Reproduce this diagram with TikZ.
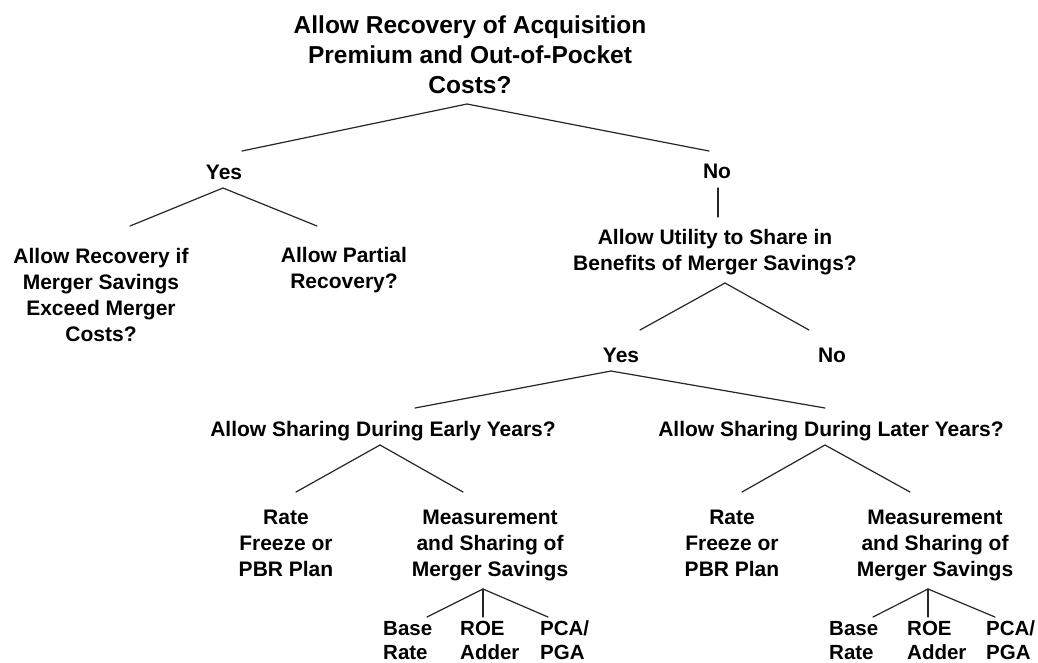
\documentclass[tikz,border=0pt]{standalone}
\usepackage{fontspec}
\setmainfont{Liberation Sans}
\begin{document}
\begin{tikzpicture}[x=1pt,y=-1pt]
\tikzset{
  lbl/.style={font=\bfseries\fontsize{21}{26}\selectfont, inner sep=0pt, align=center, anchor=base},
  ttl/.style={lbl, font=\bfseries\fontsize{24.5}{30}\selectfont},
  sml/.style={font=\bfseries\fontsize{20.5}{24}\selectfont, inner sep=0pt, align=left, anchor=base west},
  edge/.style={line width=1.2pt, black!85, line cap=round}
}
\useasboundingbox[fill=white] (0,0) rectangle (1038,662);

% texts (y = baseline of the last line)
\node[ttl] (root) at (470,93) {Allow Recovery of Acquisition\\Premium and Out-of-Pocket\\Costs?};
\node[lbl] (yes1) at (224,179) {Yes};
\node[lbl] (no1) at (717,178) {No};
\node[lbl] (recif) at (101,341) {Allow Recovery if\\Merger Savings\\Exceed Merger\\Costs?};
\node[lbl] (partial) at (344,288) {Allow Partial\\Recovery?};
\node[lbl] (utility) at (715,270) {Allow Utility to Share in\\Benefits of Merger Savings?};
\node[lbl] (yes2) at (621,362) {Yes};
\node[lbl] (no2) at (832,362) {No};
\node[lbl] (early) at (383,436) {Allow Sharing During Early Years?};
\node[lbl] (later) at (831,436) {Allow Sharing During Later Years?};
\node[lbl] (rate1) at (286,576) {Rate\\Freeze or\\PBR Plan};
\node[lbl] (meas1) at (490,576) {Measurement\\and Sharing of\\Merger Savings};
\node[lbl] (rate2) at (732,576) {Rate\\Freeze or\\PBR Plan};
\node[lbl] (meas2) at (935,576) {Measurement\\and Sharing of\\Merger Savings};
\node[sml] (base1) at (383,659) {Base\\Rate};
\node[sml] (roe1) at (460,659) {ROE\\Adder};
\node[sml] (pca1) at (540,659) {PCA/\\PGA};
\node[sml] (base2) at (829,659) {Base\\Rate};
\node[sml] (roe2) at (907,659) {ROE\\Adder};
\node[sml] (pca2) at (986,659) {PCA/\\PGA};

% connector end points
\coordinate (rootB) at (467,104);
\coordinate (yes1T) at (242,151);
\coordinate (no1T) at (709,151);
\coordinate (yes1B) at (223,188);
\coordinate (recifT) at (130,226);
\coordinate (partialT) at (317,226);
\coordinate (no1B) at (718,188);
\coordinate (utilityT) at (718,217);
\coordinate (utilityB) at (725,283);
\coordinate (yes2T) at (640,330);
\coordinate (no2T) at (809,330);
\coordinate (yes2B) at (611,371);
\coordinate (earlyT) at (415,408);
\coordinate (laterT) at (825,408);
\coordinate (earlyB) at (380,445);
\coordinate (rate1T) at (296,492);
\coordinate (meas1T) at (463,492);
\coordinate (laterB) at (825,445);
\coordinate (rate2T) at (742,492);
\coordinate (meas2T) at (910,492);
\coordinate (meas1B) at (483,589);
\coordinate (base1T) at (427,617);
\coordinate (roe1T) at (483,617);
\coordinate (pca1T) at (548,617);
\coordinate (meas2B) at (928,589);
\coordinate (base2T) at (873,617);
\coordinate (roe2T) at (928,617);
\coordinate (pca2T) at (995,617);

% connectors
\draw[edge] (yes1T) -- (rootB) -- (no1T);
\draw[edge] (recifT) -- (yes1B) -- (partialT);
\draw[edge] (no1B) -- (utilityT);
\draw[edge] (yes2T) -- (utilityB) -- (no2T);
\draw[edge] (earlyT) -- (yes2B) -- (laterT);
\draw[edge] (rate1T) -- (earlyB) -- (meas1T);
\draw[edge] (rate2T) -- (laterB) -- (meas2T);
\draw[edge] (base1T) -- (meas1B) -- (pca1T);
\draw[edge] (meas1B) -- (roe1T);
\draw[edge] (base2T) -- (meas2B) -- (pca2T);
\draw[edge] (meas2B) -- (roe2T);
\end{tikzpicture}
\end{document}
